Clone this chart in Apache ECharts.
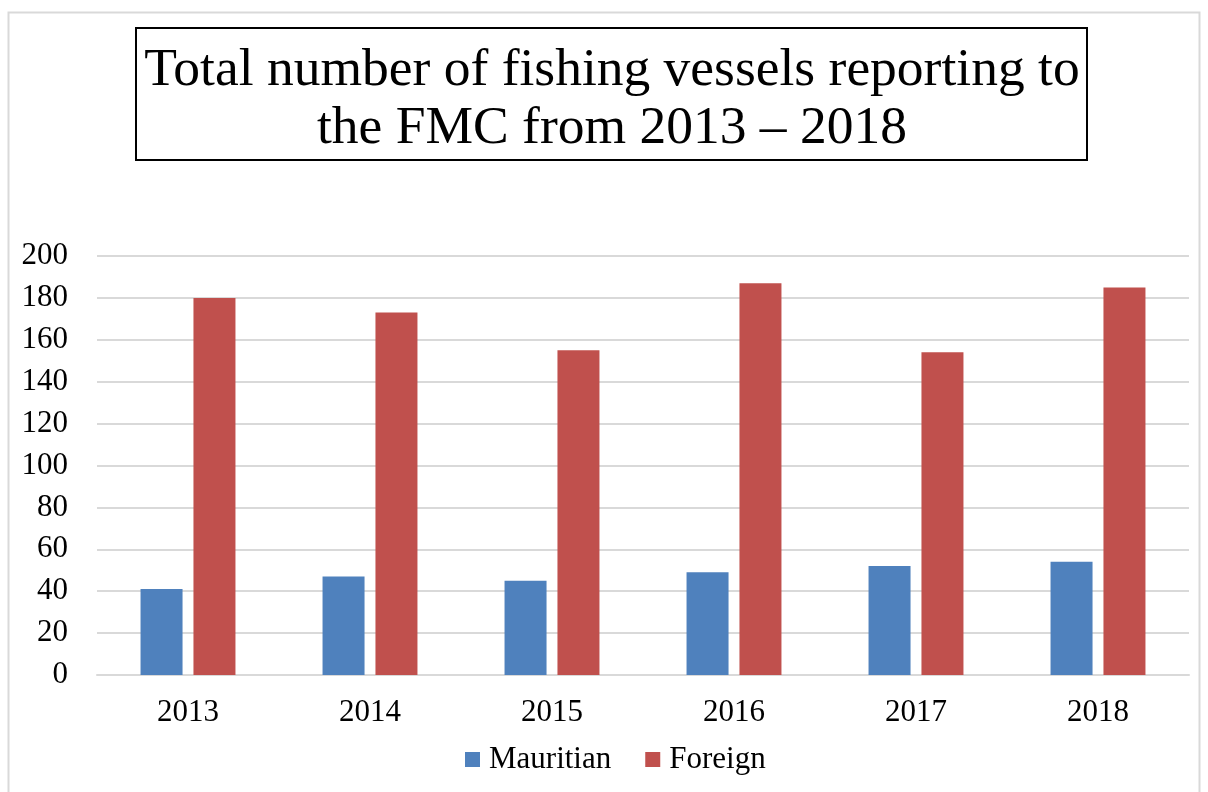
<!DOCTYPE html>
<html>
<head>
<meta charset="utf-8">
<style>
  html, body { margin: 0; padding: 0; background: #ffffff; }
  #chart { width: 1208px; height: 792px; }
</style>
<script src="https://cdn.jsdelivr.net/npm/echarts@6/dist/echarts.min.js"></script>
</head>
<body>
<div id="chart"></div>
<script>
// Fishing vessels reporting to the FMC, by year and flag
const years = ['2013', '2014', '2015', '2016', '2017', '2018'];
const mauritian = [41, 47, 45, 49, 52, 54];
const foreign = [180, 173, 155, 187, 154, 185];
const seriesNames = ['Mauritian', 'Foreign'];
const yTicks = { min: 0, max: 200, interval: 20 };
const titleText = 'Total number of fishing vessels reporting to\nthe FMC from 2013 \u2013 2018';

const serif = '"Liberation Serif", "Times New Roman", serif';
const chart = echarts.init(document.getElementById('chart'), null, { renderer: 'canvas' });

chart.setOption({
  backgroundColor: '#ffffff',
  animation: false,
  graphic: [
    {
      // light frame around the whole chart
      type: 'rect',
      shape: { x: 8.5, y: 12.5, width: 1191, height: 800 },
      style: { fill: 'none', stroke: '#d9d9d9', lineWidth: 2 },
      silent: true,
      z: -1
    },
    {
      // boxed title
      type: 'rect',
      shape: { x: 136, y: 28, width: 951, height: 132 },
      style: { fill: '#ffffff', stroke: '#000000', lineWidth: 2 },
      silent: true
    },
    {
      type: 'text',
      x: 612,
      y: 100,
      style: {
        text: titleText,
        fontFamily: serif,
        fontSize: 53.5,
        lineHeight: 58,
        fill: '#000000',
        align: 'center',
        verticalAlign: 'middle'
      },
      silent: true,
      z: 10
    }
  ],
  legend: {
    data: seriesNames,
    top: 739,
    left: 460,
    icon: 'rect',
    itemWidth: 15,
    itemHeight: 15,
    itemGap: 34,
    textStyle: { fontFamily: serif, fontSize: 31, color: '#000000', padding: [0, 0, 0, 4] }
  },
  grid: { left: 97, right: 19, top: 256, bottom: 117 },
  xAxis: {
    type: 'category',
    data: years,
    axisLine: { lineStyle: { color: '#d9d9d9', width: 2 } },
    axisTick: { show: false },
    axisLabel: { fontFamily: serif, fontSize: 31, color: '#000000', margin: 22 }
  },
  yAxis: {
    type: 'value',
    min: yTicks.min,
    max: yTicks.max,
    interval: yTicks.interval,
    axisLine: { show: false },
    axisTick: { show: false },
    splitLine: { lineStyle: { color: '#d9d9d9', width: 2 } },
    axisLabel: { fontFamily: serif, fontSize: 31, color: '#000000', margin: 29, padding: [4, 0, 0, 0] }
  },
  series: [
    {
      name: seriesNames[0],
      type: 'bar',
      data: mauritian,
      barWidth: 42,
      barGap: '26%',
      itemStyle: { color: '#4f81bd' }
    },
    {
      name: seriesNames[1],
      type: 'bar',
      data: foreign,
      barWidth: 42,
      itemStyle: { color: '#c0504d' }
    }
  ]
});
</script>
</body>
</html>
